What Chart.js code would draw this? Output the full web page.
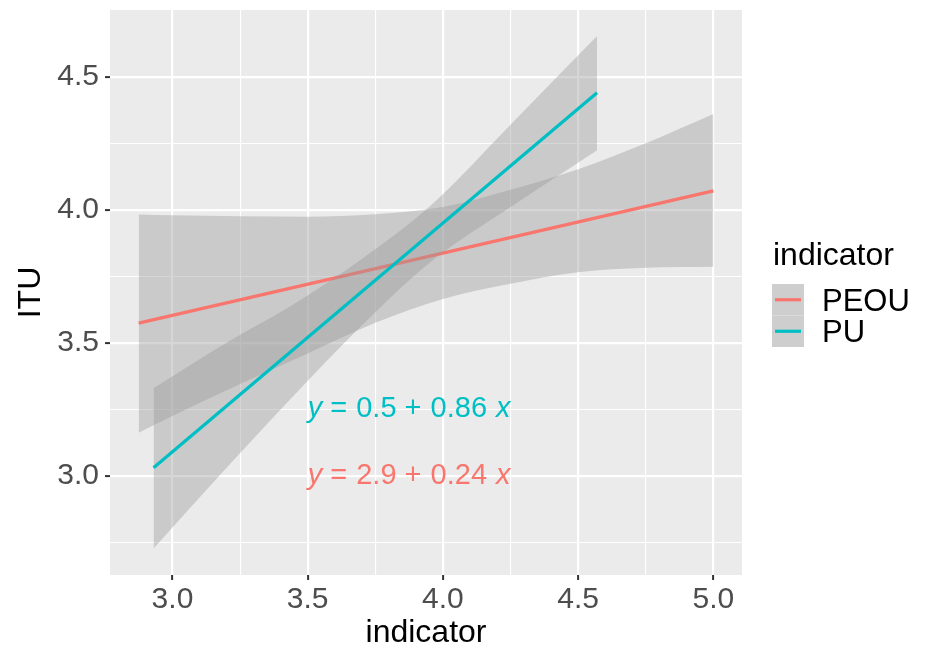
<!DOCTYPE html>
<html><head><meta charset="utf-8">
<script src="https://cdn.jsdelivr.net/npm/chart.js@4.4.1/dist/chart.umd.min.js"></script>
<style>html,body{margin:0;padding:0;background:#fff;overflow:hidden}#wrap{position:relative;width:932px;height:656px}</style>
</head><body><div id="wrap"><canvas id="c" width="932" height="656"></canvas></div>
<script>
// ---- data ----
const groups = ['PEOU', 'PU'];
const groupColors = ['#F8766D', '#00BFC4'];

const peouFitX = [2.875, 5.0];
const peouFitY = [3.574, 4.071];
const peouBandX = [2.875, 3.0, 3.25, 3.5, 3.75, 4.0, 4.25, 4.5, 4.75, 5.0];
const peouUpper = [3.982, 3.979, 3.976, 3.974, 3.983, 4.010, 4.075, 4.152, 4.250, 4.360];
const peouLower = [3.162, 3.225, 3.345, 3.460, 3.575, 3.665, 3.722, 3.765, 3.782, 3.786];

const puFitX = [2.93, 4.57];
const puFitY = [3.03, 4.44];
const puBandX = [2.93, 3.2, 3.433, 3.7, 3.95, 4.25, 4.57];
const puUpper = [3.329, 3.50, 3.635, 3.815, 4.011, 4.320, 4.653];
const puLower = [2.727, 3.03, 3.285, 3.565, 3.800, 4.010, 4.224];

const eqIntercepts = ['2.9', '0.5'];
const eqSlopes = ['0.24', '0.86'];
const eqX = 3.5;
const eqY = [3.0, 3.25];

const xTicks = [3.0, 3.5, 4.0, 4.5, 5.0];
const yTicks = [3.0, 3.5, 4.0, 4.5];
const xMinor = [3.25, 3.75, 4.25, 4.75];
const yMinor = [2.75, 3.25, 3.75, 4.25];
const xLimits = [2.769, 5.106];
const yLimits = [2.627, 4.751];
const xTitle = 'indicator';
const yTitle = 'ITU';
const legendTitle = 'indicator';

// ---- helpers ----
const pts = (xs, ys) => xs.map((x, i) => ({x: x, y: ys[i]}));
const isMajor = v => Math.abs(v * 2 - Math.round(v * 2)) < 1e-9;
const FONT = '"Liberation Sans", Arial, Helvetica, sans-serif';
const ribbonFill = 'rgba(153,153,153,0.4)';

function ribbon(xs, up, lo, order) {
  return [
    {data: pts(xs, up), showLine: true, fill: '+1', backgroundColor: ribbonFill, borderWidth: 0,
     borderColor: 'rgba(0,0,0,0)', pointRadius: 0, order: order, cubicInterpolationMode: 'monotone'},
    {data: pts(xs, lo), showLine: true, fill: false, borderWidth: 0, borderColor: 'rgba(0,0,0,0)',
     pointRadius: 0, order: order, cubicInterpolationMode: 'monotone'}
  ];
}
function fitLine(xs, ys, color, order) {
  return {data: pts(xs, ys), showLine: true, fill: false, borderColor: color, borderWidth: 3.2,
          pointRadius: 0, order: order, borderCapStyle: 'butt'};
}

const datasets = [
  fitLine(puFitX, puFitY, groupColors[1], 0),
  ...ribbon(puBandX, puUpper, puLower, 1),
  fitLine(peouFitX, peouFitY, groupColors[0], 2),
  ...ribbon(peouBandX, peouUpper, peouLower, 3)
];

const decor = {
  id: 'decor',
  beforeDraw(chart) {
    const {ctx, chartArea: a} = chart;
    ctx.save();
    ctx.fillStyle = '#FFFFFF';
    ctx.fillRect(0, 0, chart.width, chart.height);
    ctx.fillStyle = '#EBEBEB';
    ctx.fillRect(a.left, a.top, a.right - a.left, a.bottom - a.top);
    ctx.restore();
  },
  afterDatasetsDraw(chart) {
    const {ctx} = chart;
    const xs = chart.scales.x, ys = chart.scales.y;
    ctx.save();
    ctx.textBaseline = 'middle';
    ctx.textAlign = 'left';
    const size = 29;
    for (let g = 0; g < 2; g++) {
      let x = xs.getPixelForValue(eqX);
      const y = ys.getPixelForValue(eqY[g]);
      ctx.fillStyle = groupColors[g];
      const parts = [
        ['italic', 'y'], ['normal', ' = '], ['normal', eqIntercepts[g]], ['normal', ' + '],
        ['normal', eqSlopes[g]], ['normal', ' '], ['italic', 'x']
      ];
      for (const [st, t] of parts) {
        ctx.font = st + ' ' + size + 'px ' + FONT;
        ctx.fillText(t, x, y);
        x += ctx.measureText(t).width + (t.trim() === '' || t.indexOf(' ') >= 0 ? 1 : 0);
      }
    }
    ctx.restore();
  },
  afterDraw(chart) {
    const {ctx} = chart;
    ctx.save();
    ctx.textBaseline = 'alphabetic';
    ctx.textAlign = 'left';
    ctx.fillStyle = '#000000';
    ctx.font = '32px ' + FONT;
    ctx.fillText(legendTitle, 773, 265);
    const keyH = 31.5;
    for (let g = 0; g < groups.length; g++) {
      const top = 284 + g * keyH;
      ctx.fillStyle = '#CECECE';
      ctx.fillRect(772, top, 32, keyH);
      ctx.strokeStyle = groupColors[g];
      ctx.lineWidth = 3.2;
      ctx.beginPath();
      ctx.moveTo(775, top + keyH / 2);
      ctx.lineTo(801, top + keyH / 2);
      ctx.stroke();
      ctx.fillStyle = '#000000';
      ctx.font = '31px ' + FONT;
      ctx.fillText(groups[g], 822, top + keyH / 2 + 11);
    }
    ctx.restore();
  }
};

function axis(limits, majors, minors, title, isX) {
  const cfg = {
    type: 'linear',
    min: limits[0], max: limits[1],
    afterBuildTicks: s => { s.ticks = majors.concat(minors).sort((a, b) => a - b).map(v => ({value: v})); },
    ticks: {
      autoSkip: false, maxRotation: 0, minRotation: 0,
      padding: isX ? 2 : 6,
      color: '#4D4D4D',
      font: {family: FONT, size: 30},
      callback: v => isMajor(v) ? v.toFixed(1) : ''
    },
    grid: {
      color: '#FFFFFF',
      lineWidth: c => (c.tick && isMajor(c.tick.value)) ? 2.2 : 1.1,
      drawTicks: true, tickLength: 5, tickWidth: 2,
      tickColor: c => (c.tick && isMajor(c.tick.value)) ? '#333333' : 'rgba(0,0,0,0)'
    },
    border: {display: false},
    title: {
      display: true, text: title, color: '#000000',
      font: {family: FONT, size: 32},
      padding: isX ? {top: 0, bottom: 4} : {top: 12, bottom: 0}
    }
  };
  if (isX) cfg.afterFit = s => { s.height = 81; s.paddingLeft = 0; s.paddingRight = 0; };
  else cfg.afterFit = s => { s.width = 110; s.paddingTop = 0; s.paddingBottom = 0; };
  return cfg;
}

new Chart(document.getElementById('c'), {
  type: 'scatter',
  data: {datasets: datasets},
  options: {
    responsive: false, animation: false, events: [],
    layout: {padding: {left: 0, right: 190, top: 10, bottom: 0}},
    plugins: {legend: {display: false}, tooltip: {enabled: false}, filler: {propagate: false}},
    scales: {
      x: axis(xLimits, xTicks, xMinor, xTitle, true),
      y: axis(yLimits, yTicks, yMinor, yTitle, false)
    }
  },
  plugins: [decor]
});
</script></body></html>
